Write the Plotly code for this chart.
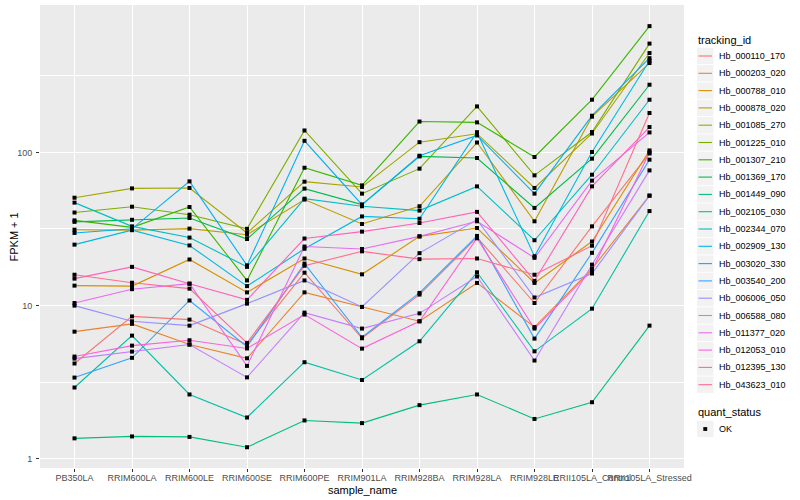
import plotly.graph_objects as go

sample_names = ["PB350LA", "RRIM600LA", "RRIM600LE", "RRIM600SE", "RRIM600PE",
                "RRIM901LA", "RRIM928BA", "RRIM928LA", "RRIM928LE",
                "RRII105LA_Control", "RRII105LA_Stressed"]

tracking_ids = ["Hb_000110_170", "Hb_000203_020", "Hb_000788_010", "Hb_000878_020",
                "Hb_001085_270", "Hb_001225_010", "Hb_001307_210", "Hb_001369_170",
                "Hb_001449_090", "Hb_002105_030", "Hb_002344_070", "Hb_002909_130",
                "Hb_003020_330", "Hb_003540_200", "Hb_006006_050", "Hb_006588_080",
                "Hb_011377_020", "Hb_012053_010", "Hb_012395_130", "Hb_043623_010"]

line_colors = ["#F8766D", "#EA8331", "#D89000", "#C09B00", "#A3A500", "#7CAE00",
               "#39B600", "#00BB4E", "#00BF7D", "#00C1A3", "#00BFC4", "#00BAE0",
               "#00B0F6", "#35A2FF", "#9590FF", "#C77CFF", "#E76BF3", "#FA62DB",
               "#FF62BC", "#FF6C91"]

# FPKM + 1 per sample, one list per tracking id
hb_000110_170 = [4.19, 8.5, 8.1, 5.57, 16.4, 6.12, 11.8, 27.9, 10.4, 32.9, 98.4]
hb_000203_020 = [6.76, 7.6, 5.57, 4.53, 12.2, 9.8, 7.9, 14.06, 7.24, 17.4, 52.2]
hb_000788_010 = [13.5, 13.4, 20.0, 12.2, 20.3, 16.0, 28.3, 32.1, 14.06, 26.2, 103]
hb_000878_020 = [31.3, 31.1, 31.8, 29.0, 49.2, 34.1, 44.5, 116, 35.5, 171, 383]
hb_001085_270 = [50.6, 58.2, 58.6, 29.8, 64.4, 59.5, 116.6, 132.4, 58.6, 132.8, 445]
hb_001225_010 = [40.5, 44.2, 39.2, 31.7, 139, 53.8, 78.3, 199.6, 70.8, 135.8, 513]
hb_001307_210 = [36.0, 32.4, 44.0, 14.6, 79.4, 60.9, 159, 157, 93.3, 220.7, 667]
hb_001369_170 = [35.2, 36.3, 37.3, 27.2, 58.0, 45.6, 94.1, 91.9, 43.4, 91.0, 276.5]
hb_001449_090 = [1.36, 1.40, 1.39, 1.19, 1.78, 1.71, 2.24, 2.63, 1.82, 2.34, 7.4]
hb_002105_030 = [2.92, 6.37, 2.63, 1.86, 4.27, 3.27, 5.85, 16.5, 5.03, 9.55, 41.4]
hb_002344_070 = [47.0, 32.9, 27.8, 17.9, 49.9, 44.5, 41.7, 60.0, 26.7, 71.5, 220.7]
hb_002909_130 = [25.0, 31.1, 24.7, 13.4, 23.5, 38.2, 36.9, 135.5, 21.0, 100.6, 396]
hb_003020_330 = [29.8, 31.7, 64.7, 18.3, 119, 45.6, 95.1, 129, 53.8, 173.5, 412]
hb_003540_200 = [3.39, 4.56, 10.8, 5.40, 18.8, 6.21, 12.1, 28.5, 6.09, 22.1, 89.6]
hb_006006_050 = [10.0, 7.9, 7.4, 10.3, 14.6, 9.8, 22.0, 36.4, 11.3, 16.2, 52.2]
hb_006588_080 = [4.51, 5.01, 5.57, 3.40, 9.0, 7.08, 8.9, 15.5, 4.38, 18.5, 76.3]
hb_011377_020 = [10.4, 12.8, 13.9, 4.04, 24.3, 23.4, 28.3, 35.5, 20.5, 65.4, 135]
hb_012053_010 = [4.65, 5.48, 5.94, 5.25, 8.74, 5.24, 7.9, 27.5, 7.08, 17.0, 100]
hb_012395_130 = [15.0, 17.9, 13.9, 10.9, 27.4, 30.4, 34.6, 40.9, 14.5, 60.0, 146.4]
hb_043623_010 = [15.9, 14.1, 12.9, 5.71, 18.2, 22.6, 20.1, 20.3, 15.9, 24.6, 180.7]

series_values = [hb_000110_170, hb_000203_020, hb_000788_010, hb_000878_020,
                 hb_001085_270, hb_001225_010, hb_001307_210, hb_001369_170,
                 hb_001449_090, hb_002105_030, hb_002344_070, hb_002909_130,
                 hb_003020_330, hb_003540_200, hb_006006_050, hb_006588_080,
                 hb_011377_020, hb_012053_010, hb_012395_130, hb_043623_010]

quant_levels = ["OK"]
y_ticks = [1, 10, 100]
y_tick_text = ["1", "10", "100"]
y_minor = [10 ** 0.5, 10 ** 1.5, 10 ** 2.5]

W, H = 800, 500
ML, MR, MT, MB = 40, 116, 5, 32
PW, PH = W - ML - MR, H - MT - MB


def px(x):
    return (x - ML) / PW


def py(y):
    return (H - MB - y) / PH


FONT = "Liberation Sans, Arial, Helvetica, sans-serif"

fig = go.Figure()
for name, col, vals in zip(tracking_ids, line_colors, series_values):
    fig.add_trace(go.Scatter(x=sample_names, y=vals, mode="lines", name=name,
                             line=dict(color=col, width=1.1), showlegend=False,
                             hoverinfo="skip"))
for name, vals in zip(tracking_ids, series_values):
    fig.add_trace(go.Scatter(x=sample_names, y=vals, mode="markers", name=name,
                             marker=dict(symbol="square", size=4, color="black",
                                         line=dict(width=0)),
                             showlegend=False))

shapes = []
annotations = []

# legend: tracking_id
annotations.append(dict(text="tracking_id", x=px(696), y=py(40), xref="paper", yref="paper",
                        xanchor="left", yanchor="middle", showarrow=False,
                        font=dict(family=FONT, size=11, color="black")))
for i, (name, col) in enumerate(zip(tracking_ids, line_colors)):
    yc = 56 + 17.3 * i
    shapes.append(dict(type="rect", xref="paper", yref="paper",
                       x0=px(697), x1=px(713.5), y0=py(yc - 8.2), y1=py(yc + 8.2),
                       fillcolor="#F2F2F2", line=dict(width=0), layer="above"))
    shapes.append(dict(type="line", xref="paper", yref="paper",
                       x0=px(698.5), x1=px(712), y0=py(yc), y1=py(yc),
                       line=dict(color=col, width=1.1), layer="above"))
    annotations.append(dict(text=name, x=px(716.5), y=py(yc), xref="paper", yref="paper",
                            xanchor="left", yanchor="middle", showarrow=False,
                            font=dict(family=FONT, size=9, color="black")))

# legend: quant_status
annotations.append(dict(text="quant_status", x=px(696), y=py(412), xref="paper", yref="paper",
                        xanchor="left", yanchor="middle", showarrow=False,
                        font=dict(family=FONT, size=11, color="black")))
for j, lev in enumerate(quant_levels):
    yc = 429 + 17.3 * j
    shapes.append(dict(type="rect", xref="paper", yref="paper",
                       x0=px(697), x1=px(713.5), y0=py(yc - 8.2), y1=py(yc + 8.2),
                       fillcolor="#F2F2F2", line=dict(width=0), layer="above"))
    shapes.append(dict(type="rect", xref="paper", yref="paper",
                       x0=px(703.3), x1=px(707.2), y0=py(yc - 1.9), y1=py(yc + 1.9),
                       fillcolor="black", line=dict(width=0), layer="above"))
    annotations.append(dict(text=lev, x=px(716.5), y=py(yc), xref="paper", yref="paper",
                            xanchor="left", yanchor="middle", showarrow=False,
                            font=dict(family=FONT, size=9, color="black")))

# axis titles
annotations.append(dict(text="sample_name", x=px(362), y=py(490), xref="paper", yref="paper",
                        xanchor="center", yanchor="middle", showarrow=False,
                        font=dict(family=FONT, size=11, color="black")))
annotations.append(dict(text="FPKM + 1", x=px(13), y=py(236.5), xref="paper", yref="paper",
                        xanchor="center", yanchor="middle", showarrow=False, textangle=-90,
                        font=dict(family=FONT, size=11, color="black")))

fig.update_layout(
    width=W, height=H,
    margin=dict(l=ML, r=MR, t=MT, b=MB, pad=0),
    plot_bgcolor="#EBEBEB", paper_bgcolor="white",
    font=dict(family=FONT, size=9, color="#4D4D4D"),
    showlegend=False,
    shapes=shapes, annotations=annotations,
)
fig.update_xaxes(type="category", categoryorder="array", categoryarray=sample_names,
                 range=[-0.6, len(sample_names) - 0.4], showgrid=True, gridcolor="white",
                 gridwidth=1.1, ticks="outside", ticklen=3, tickwidth=1, tickcolor="#333333",
                 tickangle=0, zeroline=False, showline=False, ticklabelstandoff=-2,
                 tickfont=dict(family=FONT, size=9, color="#4D4D4D"))
fig.update_yaxes(type="log", range=[-0.06, 2.962], tickmode="array", tickvals=y_ticks,
                 ticktext=y_tick_text, showgrid=True, gridcolor="white", gridwidth=1.1,
                 minor=dict(tickmode="array", tickvals=y_minor, showgrid=True,
                            gridcolor="white", gridwidth=0.55, ticks=""),
                 ticks="outside", ticklen=3, tickwidth=1, tickcolor="#333333",
                 zeroline=False, showline=False, ticklabelstandoff=2,
                 tickfont=dict(family=FONT, size=9, color="#4D4D4D"))

fig.write_html("out.html", config={"displayModeBar": False},
               post_script="document.body.style.margin='0';")
